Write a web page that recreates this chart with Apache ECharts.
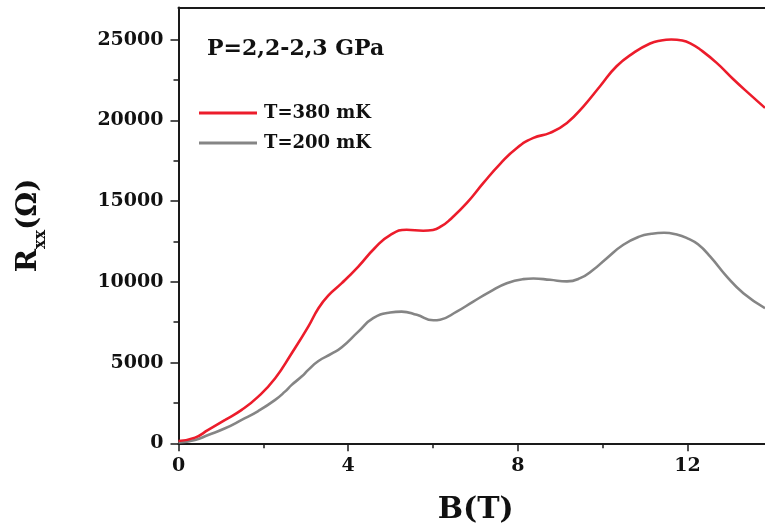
<!DOCTYPE html>
<html>
<head>
<meta charset="utf-8">
<script src="https://cdn.jsdelivr.net/npm/echarts@6/dist/echarts.min.js"></script>
<style>html,body{margin:0;padding:0;background:#fff;}#c{width:765px;height:529px;}</style>
</head>
<body>
<div id="c"></div>
<script>
// ---- data ----
var bRed = [0, 0.39, 0.70, 1.10, 1.49, 1.88, 2.28, 2.67, 3.06, 3.30, 3.53, 3.85, 4.24, 4.63, 4.99, 5.38, 5.77, 6.00, 6.20, 6.40, 6.80, 7.19, 7.58, 7.98, 8.37, 8.76, 9.16, 9.55, 9.94, 10.33, 10.73, 11.12, 11.38, 11.62, 11.88, 12.10, 12.30, 12.69, 13.09, 13.48, 13.83];
var rRed = [140, 350, 825, 1450, 2070, 2890, 4030, 5580, 7230, 8370, 9150, 9920, 10950, 12100, 12900, 13230, 13170, 13220, 13450, 13850, 14890, 16130, 17300, 18300, 18920, 19230, 19850, 20880, 22120, 23360, 24190, 24770, 24960, 25020, 24950, 24730, 24400, 23570, 22540, 21600, 20780];
var bGray = [0, 0.39, 0.70, 1.10, 1.49, 1.88, 2.28, 2.51, 2.67, 2.91, 3.06, 3.30, 3.61, 3.85, 4.24, 4.59, 4.99, 5.26, 5.62, 6.01, 6.17, 6.56, 6.95, 7.35, 7.74, 8.13, 8.37, 8.76, 9.16, 9.47, 9.78, 10.10, 10.49, 10.88, 11.15, 11.45, 11.75, 12.00, 12.25, 12.54, 12.93, 13.32, 13.83];
var rGray = [50, 200, 515, 930, 1450, 2000, 2690, 3200, 3620, 4150, 4550, 5100, 5550, 5950, 6920, 7750, 8100, 8160, 7960, 7620, 7660, 8160, 8780, 9400, 9920, 10170, 10210, 10130, 10030, 10230, 10750, 11470, 12300, 12820, 12980, 13040, 12930, 12700, 12330, 11570, 10330, 9300, 8370];
var seriesNames = ['T=380 mK', 'T=200 mK'];
var xMajorTicks = [0, 4, 8, 12];
var xMinorTicks = [2, 6, 10];
var yMajorTicks = [0, 5000, 10000, 15000, 20000, 25000];
var yMinorTicks = [2500, 7500, 12500, 17500, 22500];
var xRange = [0, 13.83];
var yRange = [0, 27000];
var titleText = 'P=2,2-2,3 GPa';

// ---- chart ----
function pairs(xs, ys) { return xs.map(function (x, i) { return [x, ys[i]]; }); }
var FONT = 'DejaVu Serif';
var AX = '#1a1a1a';
var chart = echarts.init(document.getElementById('c'), null, { renderer: 'canvas' });
chart.setOption({
  animation: false,
  backgroundColor: '#ffffff',
  title: {
    text: titleText, left: 202, top: 33,
    textStyle: { fontFamily: FONT, fontWeight: 'bold', fontSize: 22, color: '#111' }
  },
  legend: {
    orient: 'vertical', left: 194, top: 99, itemGap: 12,
    icon: 'rect', itemWidth: 58, itemHeight: 3,
    data: seriesNames,
    textStyle: { fontFamily: FONT, fontWeight: 'bold', fontSize: 18, color: '#111', padding: [0, 0, 0, 2] }
  },
  grid: { left: 178.5, right: 0, top: 7.5, bottom: 85.7, outerBoundsMode: 'none', containLabel: false },
  xAxis: [
    {
      type: 'value', position: 'bottom', min: xRange[0], max: xRange[1],
      splitLine: { show: false },
      axisLine: { show: true, onZero: false, lineStyle: { color: AX, width: 2 } },
      axisTick: { show: true, length: 8, customValues: xMajorTicks, lineStyle: { color: AX, width: 1.5 } },
      axisLabel: { customValues: xMajorTicks, margin: 13, fontFamily: FONT, fontWeight: 'bold', fontSize: 19, color: '#111',
        formatter: function (v) { return String(v); } },
      name: 'B(T)', nameLocation: 'middle', nameGap: 52,
      nameTextStyle: { fontFamily: FONT, fontWeight: 'bold', fontSize: 30, color: '#111', padding: [0, 0, 0, 8] }
    },
    {
      type: 'value', position: 'bottom', min: xRange[0], max: xRange[1],
      splitLine: { show: false },
      axisLine: { show: false, onZero: false },
      axisTick: { show: true, length: 5, customValues: xMinorTicks, lineStyle: { color: AX, width: 1.5 } },
      axisLabel: { show: false }
    },
    {
      type: 'value', position: 'top', min: xRange[0], max: xRange[1],
      splitLine: { show: false },
      axisLine: { show: true, onZero: false, lineStyle: { color: AX, width: 2 } },
      axisTick: { show: false }, axisLabel: { show: false }
    }
  ],
  yAxis: [
    {
      type: 'value', position: 'left', min: yRange[0], max: yRange[1],
      splitLine: { show: false },
      axisLine: { show: true, onZero: false, lineStyle: { color: AX, width: 2 } },
      axisTick: { show: true, length: 8, customValues: yMajorTicks, lineStyle: { color: AX, width: 1.5 } },
      axisLabel: { customValues: yMajorTicks, margin: 15, fontFamily: FONT, fontWeight: 'bold', fontSize: 19, color: '#111',
        formatter: function (v) { return String(v); } },
      name: '{r|R}{s|xx}{r|(Ω)}', nameLocation: 'middle', nameGap: 130, nameRotate: 90,
      nameTextStyle: {
        color: '#111',
        rich: {
          r: { fontFamily: FONT, fontWeight: 'bold', fontSize: 28, lineHeight: 40, color: '#111' },
          s: { fontFamily: FONT, fontWeight: 'bold', fontSize: 16, lineHeight: 14, verticalAlign: 'bottom', color: '#111' }
        }
      }
    },
    {
      type: 'value', position: 'left', min: yRange[0], max: yRange[1],
      splitLine: { show: false },
      axisLine: { show: false, onZero: false },
      axisTick: { show: true, length: 5, customValues: yMinorTicks, lineStyle: { color: AX, width: 1.5 } },
      axisLabel: { show: false }
    }
  ],
  series: [
    {
      name: seriesNames[0], type: 'line', xAxisIndex: 0, yAxisIndex: 0,
      data: pairs(bRed, rRed), smooth: 0.5, showSymbol: false, symbol: 'none',
      lineStyle: { color: '#ec1c2b', width: 2.6 }, itemStyle: { color: '#ec1c2b' }, z: 3
    },
    {
      name: seriesNames[1], type: 'line', xAxisIndex: 0, yAxisIndex: 0,
      data: pairs(bGray, rGray), smooth: 0.5, showSymbol: false, symbol: 'none',
      lineStyle: { color: '#858585', width: 2.6 }, itemStyle: { color: '#858585' }, z: 2
    }
  ]
});
</script>
</body>
</html>
